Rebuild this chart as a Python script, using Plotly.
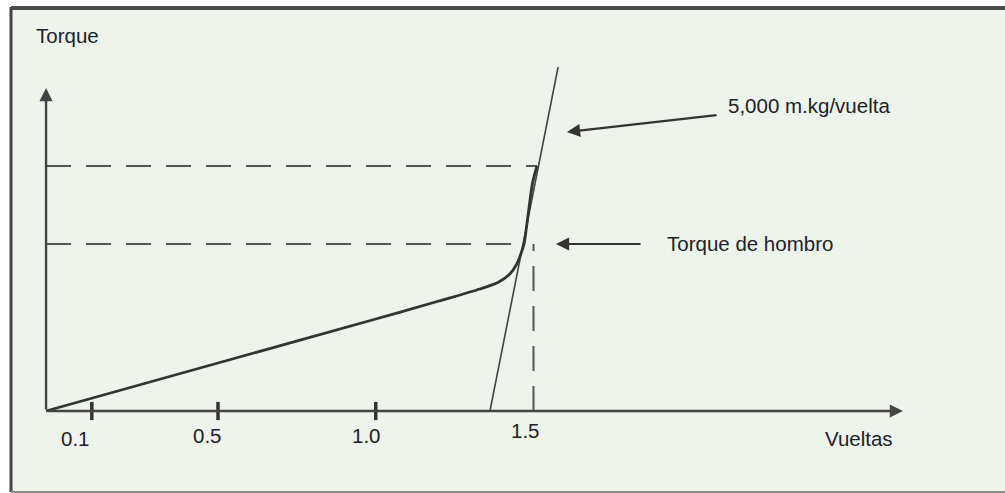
import plotly.graph_objects as go

# ---- data (vueltas = turns, torque in arbitrary units) ----
curve_vueltas = [-0.045, 0.5, 1.0, 1.2, 1.33, 1.39, 1.425, 1.447, 1.461, 1.470, 1.482, 1.497, 1.511]
curve_torque = [0.0, 0.48, 0.92, 1.10, 1.22, 1.29, 1.37, 1.47, 1.58, 1.67, 1.94, 2.28, 2.45]

rate_line_vueltas = [1.362, 1.578]
rate_line_torque = [0.0, 3.44]

shoulder_torque = 1.67
upper_torque = 2.45
shoulder_vueltas = 1.470
upper_vueltas = 1.511
shoulder_turn = 1.5

origin_v = -0.045
x_axis_end = 2.671
y_axis_end = 3.23

tick_vals = [0.1, 0.5, 1.0]
label_vals = [0.1, 0.5, 1.0, 1.5]
label_text = ["0.1", "0.5", "1.0", "1.5"]
label_xshift = [-16, -11, -9, -8]
label_yshift = [-27, -24, -24, -19]

rate_label = "5,000 m.kg/vuelta"
shoulder_label = "Torque de hombro"
y_title = "Torque"
x_title = "Vueltas"

LINE = "#333333"
DASH = "#555555"
FONT = "Liberation Sans, Arial, sans-serif"
TXT = "#222228"
FS = 20.5

fig = go.Figure()

# dashed reference lines
fig.add_trace(go.Scatter(x=[origin_v, upper_vueltas], y=[upper_torque, upper_torque], mode="lines",
                         line=dict(color=DASH, width=2.2, dash="25px,15px"), hoverinfo="skip"))
fig.add_trace(go.Scatter(x=[origin_v, shoulder_vueltas], y=[shoulder_torque, shoulder_torque], mode="lines",
                         line=dict(color=DASH, width=2, dash="25px,15px"), hoverinfo="skip"))
fig.add_trace(go.Scatter(x=[shoulder_turn, shoulder_turn], y=[0, shoulder_torque], mode="lines",
                         line=dict(color=DASH, width=2, dash="25px,15px"), hoverinfo="skip"))

# steep rate line
fig.add_trace(go.Scatter(x=rate_line_vueltas, y=rate_line_torque, mode="lines",
                         line=dict(color="#444444", width=1.6), hoverinfo="skip"))

# torque curve
fig.add_trace(go.Scatter(x=curve_vueltas, y=curve_torque, mode="lines",
                         line=dict(color=LINE, width=2.8, shape="spline", smoothing=0.8), hoverinfo="skip"))

# tick marks
fig.add_trace(go.Scatter(x=tick_vals, y=[0] * len(tick_vals), mode="markers",
                         marker=dict(symbol="line-ns", size=13, line=dict(color=LINE, width=3.5)),
                         hoverinfo="skip"))

annotations = []
# axes with arrows
annotations.append(dict(x=x_axis_end, y=0, ax=origin_v, ay=0, xref="x", yref="y", axref="x", ayref="y",
                        showarrow=True, arrowhead=2, arrowsize=1.1, arrowwidth=2.4, arrowcolor="#444444", text=""))
annotations.append(dict(x=origin_v, y=y_axis_end, ax=origin_v, ay=0, xref="x", yref="y", axref="x", ayref="y",
                        showarrow=True, arrowhead=2, arrowsize=1.1, arrowwidth=2.4, arrowcolor="#444444", text=""))
# pointer arrows
annotations.append(dict(x=1.606, y=2.79, ax=2.085, ay=2.96, xref="x", yref="y", axref="x", ayref="y",
                        showarrow=True, arrowhead=2, arrowsize=1.2, arrowwidth=2.2, arrowcolor="#333333", text=""))
annotations.append(dict(x=1.571, y=shoulder_torque, ax=1.844, ay=shoulder_torque, xref="x", yref="y",
                        axref="x", ayref="y", showarrow=True, arrowhead=2, arrowsize=1.2, arrowwidth=2.2,
                        arrowcolor="#333333", text=""))
# texts
annotations.append(dict(x=2.110, y=3.06, text=rate_label, showarrow=False, xanchor="left", yanchor="middle",
                        font=dict(family=FONT, size=FS, color=TXT)))
annotations.append(dict(x=1.917, y=1.68, text=shoulder_label, showarrow=False, xanchor="left",
                        yanchor="middle", font=dict(family=FONT, size=FS, color=TXT)))
annotations.append(dict(x=0.0214, y=3.76, text=y_title, showarrow=False, xanchor="center", yanchor="middle",
                        font=dict(family=FONT, size=FS, color=TXT)))
annotations.append(dict(x=2.532, y=-0.27, text=x_title, showarrow=False, xanchor="center",
                        yanchor="middle", font=dict(family=FONT, size=FS, color=TXT)))
for v, t, xs, ys in zip(label_vals, label_text, label_xshift, label_yshift):
    annotations.append(dict(x=v, y=0, xshift=xs, yshift=ys, text=t, showarrow=False, xanchor="center",
                            yanchor="middle", font=dict(family=FONT, size=FS, color=TXT)))

H = 493.0
W = 1005.0
shapes = [
    dict(type="rect", xref="paper", yref="paper", x0=11 / W, x1=1.0, y0=1 - 491 / H, y1=1 - 8 / H,
         fillcolor="#eef4ec", line=dict(width=0), layer="below"),
    dict(type="line", xref="paper", yref="paper", x0=11 / W, x1=1.0, y0=1 - 8 / H, y1=1 - 8 / H,
         line=dict(color="#4a4a4a", width=4)),
    dict(type="line", xref="paper", yref="paper", x0=11 / W, x1=11 / W, y0=1 - 492 / H, y1=1 - 7 / H,
         line=dict(color="#444444", width=3)),
    dict(type="line", xref="paper", yref="paper", x0=11 / W, x1=1.0, y0=1 - 492 / H, y1=1 - 492 / H,
         line=dict(color="#8a8a8a", width=2)),
]

fig.update_layout(
    width=1005, height=493,
    margin=dict(l=0, r=0, t=0, b=0),
    paper_bgcolor="white", plot_bgcolor="rgba(0,0,0,0)",
    showlegend=False,
    xaxis=dict(range=[-0.191, 2.9945], visible=False, fixedrange=True),
    yaxis=dict(range=[-0.82, 4.11], visible=False, fixedrange=True),
    annotations=annotations,
    shapes=shapes,
)

fig.write_html("out.html", config={"displayModeBar": False},
               post_script="document.body.style.margin='0';document.body.style.overflow='hidden';")
